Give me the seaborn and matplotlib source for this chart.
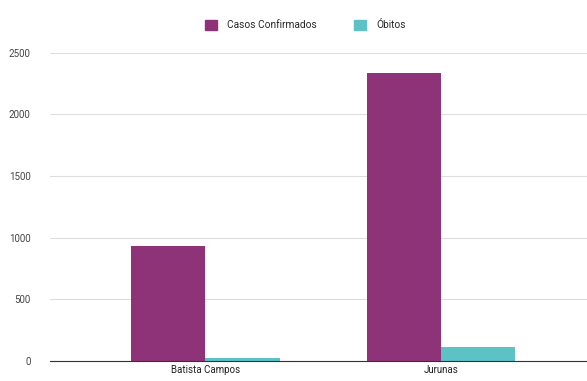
import matplotlib
matplotlib.use("Agg")
import matplotlib.pyplot as plt
import seaborn as sns
import pandas as pd

bairros = ["Batista Campos", "Jurunas"]
casos_confirmados = [935, 2338]
obitos = [25, 115]
series_names = ["Casos Confirmados", "Óbitos"]
yticks = [0, 500, 1000, 1500, 2000, 2500]

df = pd.DataFrame({
    "Bairro": bairros * 2,
    "Série": [series_names[0]] * 2 + [series_names[1]] * 2,
    "Valor": casos_confirmados + obitos,
})

sns.set_theme(style="white")
plt.rcParams['font.family'] = ['Roboto', 'DejaVu Sans']

fig = plt.figure(figsize=(5.87, 3.81), dpi=100)
ax = fig.add_axes([0.085, 0.052, 0.915, 0.81])

palette = ["#8E3377", "#5CC2C6"]
sns.barplot(data=df, x="Bairro", y="Valor", hue="Série", palette=palette,
            width=0.63, saturation=1, ax=ax, legend=False, linewidth=0)

ax.set_xlim(-0.66, 1.62)
ax.set_ylim(0, 2500)
ax.set_yticks(yticks)
ax.set_yticklabels([str(t) for t in yticks], fontsize=7, color="#444444")
ax.tick_params(axis="x", labelsize=7, colors="#222222", length=0, pad=3)
ax.tick_params(axis="y", length=0, pad=14)
ax.yaxis.grid(True, color="#dddddd", linewidth=0.8)
ax.set_axisbelow(True)
for s in ["top", "right", "left"]:
    ax.spines[s].set_visible(False)
ax.spines["bottom"].set_color("#333333")
ax.spines["bottom"].set_linewidth(0.8)
ax.set_xlabel("")
ax.set_ylabel("")

from matplotlib.patches import Patch
handles = [Patch(facecolor=c, edgecolor=c) for c in palette]
fig.legend(handles, series_names, loc="center", bbox_to_anchor=(0.52, 0.934),
           ncol=2, frameon=False, fontsize=7.3, handlelength=1.2, handleheight=1.2,
           columnspacing=3.6, handletextpad=1.0)

fig.savefig("out.png", dpi=100)
